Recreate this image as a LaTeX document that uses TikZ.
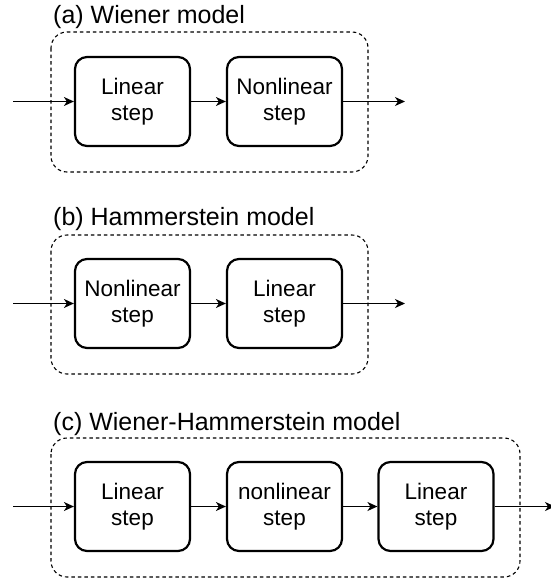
\documentclass[tikz,border=0pt]{standalone}
\usepackage{fontspec}
\setmainfont{Liberation Sans}
\usetikzlibrary{arrows.meta}
\begin{document}
\begin{tikzpicture}[x=1pt,y=-1pt,
  stepbox/.style={draw,line width=2.2pt,rounded corners=12pt,minimum width=115pt,minimum height=89pt,align=center,inner sep=0pt,font=\fontsize{22.5}{26.5}\selectfont},
  groupbox/.style={draw,line width=1.1pt,dash pattern=on 3.5pt off 3pt,rounded corners=16pt},
  title/.style={anchor=base west,inner sep=0pt,font=\fontsize{25}{29}\selectfont},
  conn/.style={line width=1.4pt,-{Stealth[length=10pt,width=9pt,inset=3pt]}}
]
\useasboundingbox (0,0) rectangle (550,581);
% panel (a)
\node[title] (ta) at (53,23) {(a) Wiener model};
\draw[groupbox] (51,32) rectangle (368,172);
\node[stepbox] (a1) at (132.5,101.5) {Linear\\step};
\node[stepbox] (a2) at (284.5,101.5) {Nonlinear\\step};
\coordinate (ain) at (13,101.5);
\coordinate (aout) at (405,101.5);
\draw[conn] (ain) -- (a1);
\draw[conn] (a1) -- (a2);
\draw[conn] (a2) -- (aout);
% panel (b)
\node[title] (tb) at (53,225) {(b) Hammerstein model};
\draw[groupbox] (51,235) rectangle (368,374);
\node[stepbox] (b1) at (132.5,303.5) {Nonlinear\\step};
\node[stepbox] (b2) at (284.5,303.5) {Linear\\step};
\coordinate (bin) at (13,303.5);
\coordinate (bout) at (405,303.5);
\draw[conn] (bin) -- (b1);
\draw[conn] (b1) -- (b2);
\draw[conn] (b2) -- (bout);
% panel (c)
\node[title] (tc) at (53,430) {(c) Wiener-Hammerstein model};
\draw[groupbox] (51,438) rectangle (520,577);
\node[stepbox] (c1) at (132.5,506.5) {Linear\\step};
\node[stepbox] (c2) at (284.5,506.5) {nonlinear\\step};
\node[stepbox] (c3) at (436,506.5) {Linear\\step};
\coordinate (cin) at (13,506.5);
\coordinate (cout) at (555,506.5);
\draw[conn] (cin) -- (c1);
\draw[conn] (c1) -- (c2);
\draw[conn] (c2) -- (c3);
\draw[conn] (c3) -- (cout);
\end{tikzpicture}
\end{document}
